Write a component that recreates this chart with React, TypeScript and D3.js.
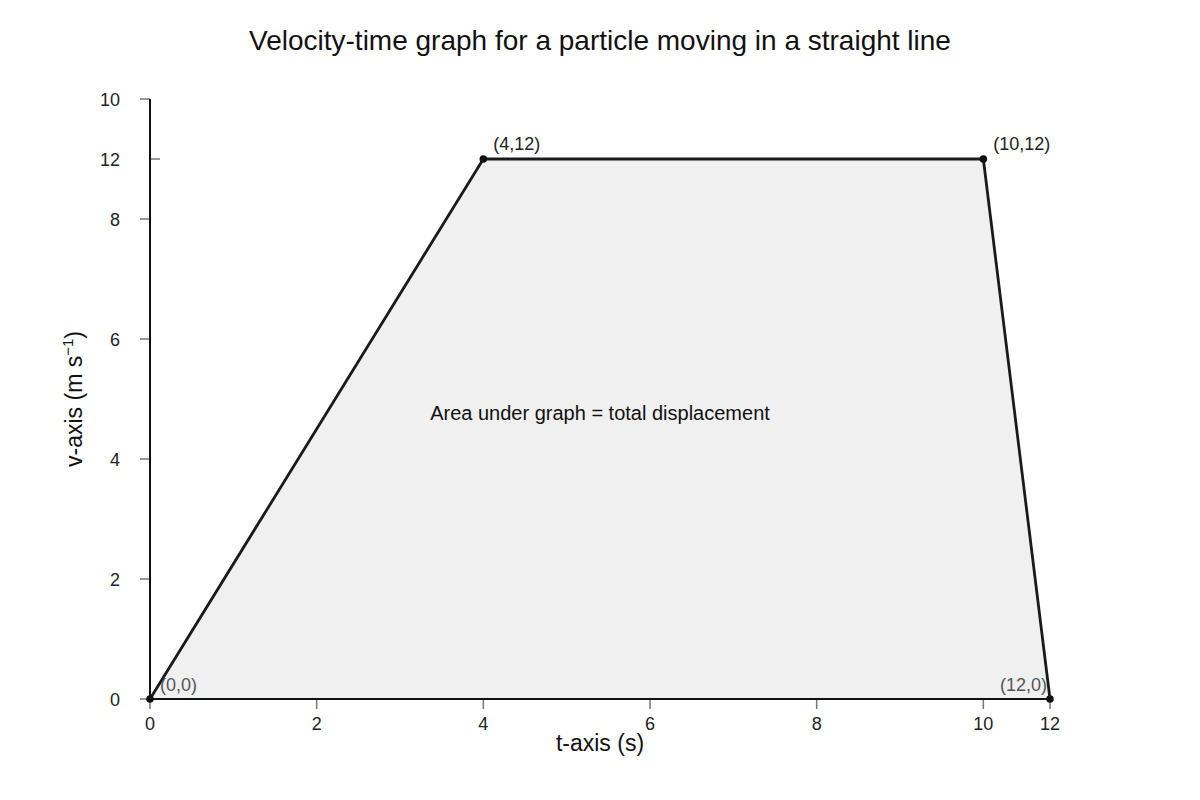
import { useEffect, useRef } from 'react'
import * as d3 from 'd3'

// Axis ticks as drawn in the reference (positions on the plotted scale, and their printed labels)
const xTickPositions = [0, 2, 4, 6, 8, 10, 10.8]
const xTickLabels = ['0', '2', '4', '6', '8', '10', '12']
const yTickPositions = [0, 2, 4, 6, 8, 9, 10]
const yTickLabels = ['0', '2', '4', '6', '8', '12', '10']

// Corner points of the graph (plotted values) and their labels
const tValues = [0, 4, 10, 10.8]
const vValues = [0, 9, 9, 0]
const pointLabels = ['(0,0)', '(4,12)', '(10,12)', '(12,0)']

const width = 1200
const height = 800
const font = 'Liberation Sans, Arial, sans-serif'

export default function App() {
  const svgRef = useRef<SVGSVGElement>(null)

  useEffect(() => {
    if (!svgRef.current) return
    const svg = d3.select(svgRef.current)
    svg.selectAll('*').remove()

    const margin = { top: 99, right: 150, bottom: 101, left: 150 }

    const x = d3.scaleLinear()
      .domain([0, 10.8])
      .range([margin.left, width - margin.right])

    const y = d3.scaleLinear()
      .domain([0, 10])
      .range([height - margin.bottom, margin.top])

    const pts = tValues.map((t, i) => ({ t, v: vValues[i], label: pointLabels[i] }))

    // Title
    svg.append('text')
      .attr('x', width / 2)
      .attr('y', 50)
      .attr('text-anchor', 'middle')
      .style('font-family', font)
      .style('font-size', '28px')
      .style('fill', '#111')
      .text('Velocity-time graph for a particle moving in a straight line')

    // Area
    const area = d3.area<typeof pts[0]>()
      .x(d => x(d.t))
      .y0(y(0))
      .y1(d => y(d.v))
    svg.append('path')
      .datum(pts)
      .attr('d', area)
      .style('fill', '#f0f0f0')

    // Y ticks
    yTickPositions.forEach((p, i) => {
      const inside = yTickLabels[i] === '12'
      svg.append('line')
        .attr('x1', inside ? x(0) : x(0) - 10)
        .attr('x2', inside ? x(0) + 10 : x(0))
        .attr('y1', y(p))
        .attr('y2', y(p))
        .style('stroke', '#777')
        .style('stroke-width', '1.5px')
      svg.append('text')
        .attr('x', x(0) - 30)
        .attr('y', y(p) + 6.5)
        .attr('text-anchor', 'end')
        .style('font-family', font)
        .style('font-size', '18px')
        .style('fill', '#222')
        .text(yTickLabels[i])
    })

    // X ticks
    xTickPositions.forEach((p, i) => {
      svg.append('line')
        .attr('x1', x(p))
        .attr('x2', x(p))
        .attr('y1', y(0))
        .attr('y2', y(0) + 10)
        .style('stroke', '#777')
        .style('stroke-width', '1.5px')
      svg.append('text')
        .attr('x', x(p))
        .attr('y', y(0) + 31)
        .attr('text-anchor', 'middle')
        .style('font-family', font)
        .style('font-size', '18px')
        .style('fill', '#222')
        .text(xTickLabels[i])
    })

    // Axis lines
    svg.append('line')
      .attr('x1', x(0)).attr('x2', x(0))
      .attr('y1', y(10)).attr('y2', y(0))
      .style('stroke', '#111')
      .style('stroke-width', '2px')
    svg.append('line')
      .attr('x1', x(0)).attr('x2', x(10.8))
      .attr('y1', y(0)).attr('y2', y(0))
      .style('stroke', '#111')
      .style('stroke-width', '2px')

    // Graph line
    const line = d3.line<typeof pts[0]>()
      .x(d => x(d.t))
      .y(d => y(d.v))
    svg.append('path')
      .datum(pts)
      .attr('d', line)
      .style('fill', 'none')
      .style('stroke', '#1a1a1a')
      .style('stroke-width', '2.8px')
      .style('stroke-linejoin', 'round')

    // Points
    pts.forEach(d => {
      svg.append('circle')
        .attr('cx', x(d.t))
        .attr('cy', y(d.v))
        .attr('r', 3.8)
        .style('fill', '#111')
    })

    // Point labels
    pts.forEach((d, i) => {
      const top = d.v > 0
      const last = i === pts.length - 1
      svg.append('text')
        .attr('x', last ? x(d.t) - 3 : x(d.t) + 10)
        .attr('y', top ? y(d.v) - 9 : y(d.v) - 8)
        .attr('text-anchor', last ? 'end' : 'start')
        .style('font-family', font)
        .style('font-size', '18px')
        .style('fill', top ? '#222' : '#555')
        .text(d.label)
    })

    // Annotation
    svg.append('text')
      .attr('x', width / 2)
      .attr('y', 420)
      .attr('text-anchor', 'middle')
      .style('font-family', font)
      .style('font-size', '20px')
      .style('fill', '#111')
      .text('Area under graph = total displacement')

    // Axis titles
    svg.append('text')
      .attr('x', width / 2)
      .attr('y', 751)
      .attr('text-anchor', 'middle')
      .style('font-family', font)
      .style('font-size', '23px')
      .style('fill', '#111')
      .text('t-axis (s)')

    const yTitle = svg.append('text')
      .attr('transform', `translate(82,${y(5)}) rotate(-90)`)
      .attr('text-anchor', 'middle')
      .style('font-family', font)
      .style('font-size', '23px')
      .style('fill', '#111')
    yTitle.append('tspan').text('v-axis (m s')
    yTitle.append('tspan').attr('dy', -9).style('font-size', '15px').text('−1')
    yTitle.append('tspan').attr('dy', 9).text(')')
  }, [])

  return (
    <svg
      ref={svgRef}
      width={width}
      height={height}
      style={{ position: 'absolute', left: 0, top: 0, background: '#fff' }}
    />
  )
}
